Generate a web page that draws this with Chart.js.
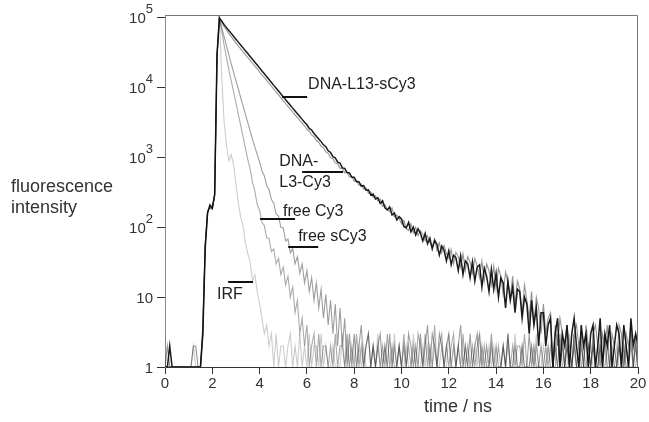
<!DOCTYPE html>
<html>
<head>
<meta charset="utf-8">
<script src="https://cdn.jsdelivr.net/npm/chart.js@4.4.1/dist/chart.umd.min.js"></script>
<style>
  body { margin: 0; background: #fff; }
  canvas { display: block; }
</style>
</head>
<body>
<canvas id="decay-chart" width="649" height="422"></canvas>
<script>
// time axis (ns), one row per nanosecond
const times = [
  0, 0.1, 0.2, 0.3, 0.4, 0.5, 0.6, 0.7, 0.8, 0.9,
  1, 1.1, 1.2, 1.3, 1.4, 1.5, 1.6, 1.7, 1.8, 1.9,
  2, 2.1, 2.2, 2.3, 2.4, 2.5, 2.6, 2.7, 2.8, 2.9,
  3, 3.1, 3.2, 3.3, 3.4, 3.5, 3.6, 3.7, 3.8, 3.9,
  4, 4.1, 4.2, 4.3, 4.4, 4.5, 4.6, 4.7, 4.8, 4.9,
  5, 5.1, 5.2, 5.3, 5.4, 5.5, 5.6, 5.7, 5.8, 5.9,
  6, 6.1, 6.2, 6.3, 6.4, 6.5, 6.6, 6.7, 6.8, 6.9,
  7, 7.1, 7.2, 7.3, 7.4, 7.5, 7.6, 7.7, 7.8, 7.9,
  8, 8.1, 8.2, 8.3, 8.4, 8.5, 8.6, 8.7, 8.8, 8.9,
  9, 9.1, 9.2, 9.3, 9.4, 9.5, 9.6, 9.7, 9.8, 9.9,
  10, 10.1, 10.2, 10.3, 10.4, 10.5, 10.6, 10.7, 10.8, 10.9,
  11, 11.1, 11.2, 11.3, 11.4, 11.5, 11.6, 11.7, 11.8, 11.9,
  12, 12.1, 12.2, 12.3, 12.4, 12.5, 12.6, 12.7, 12.8, 12.9,
  13, 13.1, 13.2, 13.3, 13.4, 13.5, 13.6, 13.7, 13.8, 13.9,
  14, 14.1, 14.2, 14.3, 14.4, 14.5, 14.6, 14.7, 14.8, 14.9,
  15, 15.1, 15.2, 15.3, 15.4, 15.5, 15.6, 15.7, 15.8, 15.9,
  16, 16.1, 16.2, 16.3, 16.4, 16.5, 16.6, 16.7, 16.8, 16.9,
  17, 17.1, 17.2, 17.3, 17.4, 17.5, 17.6, 17.7, 17.8, 17.9,
  18, 18.1, 18.2, 18.3, 18.4, 18.5, 18.6, 18.7, 18.8, 18.9,
  19, 19.1, 19.2, 19.3, 19.4, 19.5, 19.6, 19.7, 19.8, 19.9,
  20
];

// counts
const dnaL13sCy3 = [
  1, 1, 2, 1, 1, 1, 1, 1, 1, 1,
  1, 1, 1, 1, 1, 1, 3, 50, 160, 210,
  190, 300, 30000, 100000, 90000, 80000, 72500, 66000, 60000, 54500,
  49500, 45000, 41000, 37200, 33800, 30800, 28000, 25500, 23200, 21100,
  19100, 17400, 15800, 14400, 13100, 11900, 10800, 9850, 8950, 8150,
  7400, 6750, 6150, 5600, 5100, 4650, 4240, 3860, 3520, 3210,
  2950, 2610, 2480, 2210, 2020, 1850, 1690, 1520, 1430, 1250,
  1180, 1030, 990, 860, 830, 710, 700, 610, 600, 520,
  520, 450, 450, 390, 395, 340, 345, 290, 300, 255,
  265, 220, 240, 190, 178, 196, 150, 160, 128, 142,
  132, 103, 98, 118, 86, 101, 78, 95, 82, 64,
  82, 58, 70, 49, 65, 57, 40, 54, 47, 33,
  46, 29, 40, 37, 24, 39, 21, 33, 30, 19,
  32, 17, 27, 29, 14, 26, 20, 12, 25, 13,
  22, 10, 19, 16, 7, 17, 9, 14, 6, 13,
  12, 5, 10, 8, 3, 9, 4, 7, 2, 6,
  6, 2, 4, 5, 1, 3, 5, 1, 3, 2,
  4, 1, 3, 5, 2, 1, 4, 2, 3, 1,
  3, 4, 1, 2, 5, 1, 3, 2, 4, 1,
  2, 4, 3, 1, 4, 2, 1, 5, 2, 3,
  2
];

const dnaL3Cy3 = [
  1, 2, 1, 1, 1, 1, 1, 1, 1, 1,
  1, 1, 2, 2, 1, 1, 4, 60, 170, 190,
  180, 280, 28000, 98000, 86000, 75000, 67000, 60000, 54000, 48500,
  43600, 39600, 36100, 32700, 29700, 27100, 24600, 22400, 20400, 18600,
  16800, 15300, 13900, 12700, 11500, 10500, 9500, 8670, 7880, 7170,
  6510, 5940, 5410, 4930, 4490, 4090, 3730, 3400, 3100, 2825,
  2540, 2380, 2110, 1985, 1750, 1660, 1450, 1385, 1205, 1150,
  995, 965, 838, 815, 705, 700, 605, 615, 527, 536,
  458, 472, 401, 416, 352, 368, 308, 323, 270, 284,
  240, 255, 200, 212, 180, 168, 190, 142, 150, 135,
  112, 125, 96, 90, 112, 84, 100, 76, 90, 80,
  64, 76, 60, 52, 68, 47, 60, 43, 55, 42,
  36, 48, 30, 44, 38, 27, 42, 24, 38, 32,
  22, 36, 28, 19, 33, 17, 30, 24, 15, 28,
  13, 26, 20, 11, 23, 16, 10, 20, 8, 17,
  13, 6, 15, 9, 5, 12, 4, 10, 7, 3,
  8, 3, 5, 6, 1, 4, 2, 5, 3, 1,
  4, 2, 1, 3, 4, 2, 3, 1, 4, 2,
  1, 3, 4, 2, 1, 3, 2, 4, 1, 3,
  2, 1, 4, 3, 1, 3, 2, 4, 1, 3,
  1
];

const freeSCy3 = [
  1, 1, 1, 1, 1, 1, 1, 1, 1, 1,
  1, 1, 1, 1, 1, 1, 3, 52, 160, 195,
  185, 285, 29500, 100000, 72400, 53700, 39800, 29500, 21900, 16600,
  12600, 9550, 7240, 5500, 4170, 3160, 2400, 1820, 1410, 1100,
  870, 640, 545, 400, 345, 250, 222, 155, 146, 100,
  98, 64, 68, 43, 50, 30, 38, 22, 30, 16,
  24, 12, 19, 9, 16, 7, 13, 5, 11, 4,
  9, 3, 8, 2, 7, 2, 5, 1, 3, 1,
  3, 1, 2, 4, 1, 2, 3, 1, 2, 1,
  2, 3, 1, 2, 1, 3, 1, 2, 1, 2,
  1, 2, 1, 3, 2, 1, 2, 1, 3, 1,
  2, 4, 1, 3, 2, 1, 3, 2, 1, 2,
  3, 1, 2, 1, 2, 4, 1, 2, 1, 3,
  1, 2, 3, 1, 2, 1, 2, 1, 3, 1,
  2, 1, 1, 2, 1, 3, 1, 1, 2, 1,
  1, 2, 1, 1, 3, 1, 2, 1, 1, 2,
  1, 1, 2, 1, 1, 2, 1, 3, 1, 1,
  2, 1, 1, 3, 1, 1, 2, 1, 1, 2,
  1, 2, 1, 1, 2, 1, 1, 2, 1, 1,
  1, 1, 2, 1, 1, 2, 1, 1, 1, 2,
  1
];

const freeCy3 = [
  1, 1, 1, 1, 1, 1, 1, 1, 1, 1,
  1, 1, 1, 1, 1, 1, 3, 55, 165, 200,
  185, 290, 29000, 100000, 63100, 40700, 26900, 18200, 12600, 8700,
  6030, 4170, 2880, 2000, 1380, 930, 690, 440, 330, 212,
  176, 118, 106, 71, 69, 45, 49, 30, 36, 21,
  27, 15, 20, 10, 14, 6, 9, 3, 5, 2,
  4, 1, 2, 3, 1, 3, 1, 2, 2, 1,
  2, 1, 3, 1, 2, 2, 1, 3, 1, 2,
  1, 3, 1, 2, 1, 2, 3, 1, 2, 1,
  2, 1, 2, 1, 3, 1, 2, 1, 1, 2,
  1, 3, 1, 2, 1, 2, 1, 3, 2, 1,
  3, 1, 2, 1, 4, 1, 2, 3, 1, 2,
  1, 2, 3, 1, 2, 1, 3, 1, 2, 1,
  2, 1, 2, 3, 1, 2, 1, 1, 2, 1,
  1, 2, 1, 2, 1, 3, 1, 2, 1, 2,
  2, 1, 3, 1, 1, 2, 1, 2, 1, 1,
  1, 2, 1, 2, 1, 1, 3, 1, 2, 1,
  2, 1, 1, 2, 1, 2, 1, 1, 3, 1,
  1, 2, 1, 1, 2, 1, 3, 1, 1, 2,
  1, 1, 2, 1, 2, 1, 1, 2, 1, 1,
  2
];

const irf = [
  1, 1, 1, 1, 1, 1, 1, 1, 1, 1,
  1, 1, 2, 1, 1, 1, 4, 58, 170, 205,
  190, 280, 26000, 100000, 14000, 3200, 1500, 900, 1100, 800,
  420, 220, 140, 105, 60, 42, 32, 17, 21, 12,
  8, 5, 3, 4, 2, 3, 1, 3, 1, 2,
  2, 1, 2, 3, 1, 2, 1, 3, 1, 2,
  1, 3, 1, 2, 2, 1, 3, 1, 2, 1,
  1, 2, 1, 1, 1, 3, 1, 2, 1, 1,
  1, 1, 2, 1, 2, 1, 1, 1, 2, 1,
  3, 1, 1, 2, 1, 1, 1, 3, 1, 2,
  1, 1, 2, 1, 1, 3, 1, 1, 1, 2,
  1, 2, 1, 1, 2, 1, 1, 2, 1, 1,
  3, 1, 1, 1, 2, 1, 1, 2, 1, 1,
  1, 2, 1, 3, 1, 1, 1, 2, 1, 2,
  1, 1, 1, 2, 1, 2, 1, 1, 3, 1,
  1, 2, 1, 1, 1, 2, 1, 3, 1, 1,
  2, 1, 1, 1, 1, 2, 1, 1, 2, 1,
  1, 3, 1, 2, 1, 1, 1, 2, 1, 1,
  2, 1, 1, 1, 3, 1, 2, 1, 1, 1,
  1, 2, 1, 1, 2, 1, 1, 3, 1, 2,
  1
];

const seriesNames = ['DNA-L13-sCy3', 'DNA-L3-Cy3', 'free sCy3', 'free Cy3', 'IRF'];
const seriesValues = [dnaL13sCy3, dnaL3Cy3, freeSCy3, freeCy3, irf];

const yTicks = [1, 10, 100, 1000, 10000, 100000];
const yTickBase = ['1', '10', '10', '10', '10', '10'];
const yTickExp = ['', '', '2', '3', '4', '5'];

const FONT = '"Liberation Sans", Arial, sans-serif';

// curve labels with their leader lines, in data units
const notes = [
  { lines: ['DNA-L13-sCy3'], tx: 6.05, ty: [10965], x1: 4.95, x2: 6.01, y: 7380 },
  { lines: ['DNA-', 'L3-Cy3'], tx: 4.83, ty: [865, 432], x1: 5.80, x2: 7.53, y: 622 },
  { lines: ['free Cy3'], tx: 4.99, ty: [166], x1: 4.02, x2: 5.50, y: 132 },
  { lines: ['free sCy3'], tx: 5.63, ty: [72.8], x1: 5.21, x2: 6.48, y: 52.4 },
  { lines: ['IRF'], tx: 2.20, ty: [10.8], x1: 2.67, x2: 3.72, y: 16.5 }
];

function getColor(name) {
  if (name === 'DNA-L13-sCy3') return 'rgba(15, 15, 15, 0.95)';
  if (name === 'DNA-L3-Cy3') return 'rgba(0, 0, 0, 0.42)';
  if (name === 'free sCy3') return 'rgba(0, 0, 0, 0.38)';
  if (name === 'free Cy3') return 'rgba(0, 0, 0, 0.33)';
  return 'rgba(0, 0, 0, 0.2)';
}

const decorations = {
  id: 'decorations',
  afterDraw(chart) {
    const { ctx, chartArea: area, scales } = chart;
    const xs = scales.x, ys = scales.y;
    ctx.save();

    // top and right frame
    ctx.strokeStyle = '#777';
    ctx.lineWidth = 1;
    ctx.beginPath();
    ctx.moveTo(area.left, area.top + 0.5);
    ctx.lineTo(area.right - 0.5, area.top + 0.5);
    ctx.lineTo(area.right - 0.5, area.bottom);
    ctx.stroke();

    // y tick labels, powers of ten
    ctx.fillStyle = '#333';
    ctx.textBaseline = 'alphabetic';
    yTicks.forEach((v, i) => {
      const py = ys.getPixelForValue(v);
      const right = area.left - 12;
      const exp = yTickExp[i];
      ctx.font = '13px ' + FONT;
      const expW = exp ? ctx.measureText(exp).width : 0;
      ctx.font = '15px ' + FONT;
      ctx.textAlign = 'right';
      ctx.fillText(yTickBase[i], right - expW, py + 5.5);
      if (exp) {
        ctx.font = '13px ' + FONT;
        ctx.textAlign = 'left';
        ctx.fillText(exp, right - expW, py - 4.5);
      }
    });

    // axis titles
    ctx.font = '18px ' + FONT;
    ctx.textBaseline = 'middle';
    ctx.textAlign = 'left';
    ctx.fillText('fluorescence', 11, 187);
    ctx.fillText('intensity', 11, 208);
    ctx.textAlign = 'center';
    ctx.fillText('time / ns', 458, 407);

    // curve labels
    ctx.font = '16px ' + FONT;
    ctx.fillStyle = '#222';
    ctx.textAlign = 'left';
    ctx.strokeStyle = '#111';
    ctx.lineWidth = 2;
    notes.forEach(n => {
      n.lines.forEach((t, k) => ctx.fillText(t, xs.getPixelForValue(n.tx), ys.getPixelForValue(n.ty[k])));
      const ly = Math.round(ys.getPixelForValue(n.y));
      ctx.beginPath();
      ctx.moveTo(xs.getPixelForValue(n.x1), ly);
      ctx.lineTo(xs.getPixelForValue(n.x2), ly);
      ctx.stroke();
    });

    ctx.restore();
  }
};

function main() {
  const canvas = document.querySelector('#decay-chart');

  new Chart(canvas.getContext('2d'), {
    type: 'line',
    data: {
      datasets: seriesNames.map((name, s) => ({
        label: name,
        data: times.map((t, i) => ({ x: t, y: seriesValues[s][i] })),
        borderColor: getColor(name),
        borderWidth: s === 0 ? 1.5 : 1.1,
        pointRadius: 0,
        tension: 0,
        fill: false
      }))
    },
    options: {
      responsive: false,
      animation: false,
      events: [],
      layout: { padding: { top: 15, right: 11, left: 0, bottom: 0 } },
      plugins: { legend: { display: false }, tooltip: { enabled: false } },
      scales: {
        x: {
          type: 'linear',
          min: 0,
          max: 20,
          ticks: { stepSize: 2, color: '#333', font: { family: FONT, size: 15 }, padding: 1, maxRotation: 0 },
          grid: { drawOnChartArea: false, drawTicks: true, tickLength: 7, tickColor: '#333' },
          border: { color: '#333' },
          afterFit(scale) { scale.height = 55; }
        },
        y: {
          type: 'logarithmic',
          min: 1,
          max: 110000,
          afterBuildTicks(scale) { scale.ticks = yTicks.map(v => ({ value: v })); },
          ticks: { callback: () => '' },
          grid: { drawOnChartArea: false, drawTicks: true, tickLength: 8, tickColor: '#333' },
          border: { color: '#888' },
          afterFit(scale) { scale.width = 165; }
        }
      }
    },
    plugins: [decorations]
  });
}

main();
</script>
</body>
</html>
